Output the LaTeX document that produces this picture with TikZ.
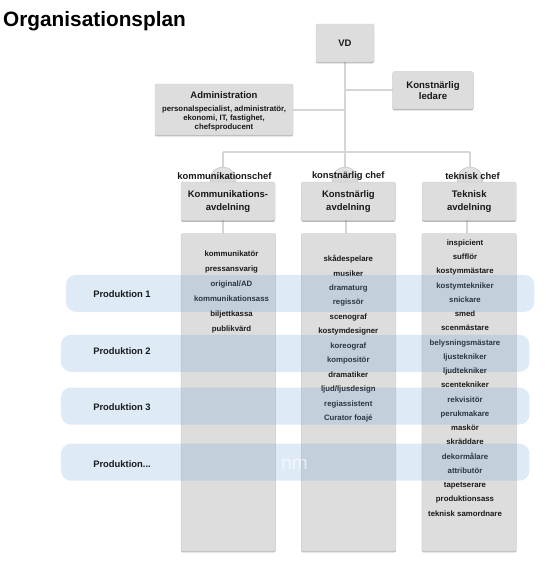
\documentclass[tikz,border=0pt]{standalone}
\usepackage{fontspec}
\setmainfont{Liberation Sans}
\usetikzlibrary{shadows}
\definecolor{boxgray}{RGB}{221,221,221}
\definecolor{boxedge}{RGB}{208,208,208}
\definecolor{linegray}{RGB}{214,214,214}
\definecolor{bandblue}{RGB}{105,160,215}
\definecolor{txt}{RGB}{25,25,25}
\begin{document}
\begin{tikzpicture}[x=1pt,y=-1pt,
  box/.style={rectangle, rounded corners=1.2pt, fill=boxgray, draw=boxedge, line width=0.4pt,
    drop shadow={shadow xshift=0pt, shadow yshift=-1.3pt, fill=black, opacity=0.28},
    inner sep=0pt, text=txt},
  conn/.style={draw=linegray, line width=2pt},
  knob/.style={circle, minimum size=26pt, inner sep=0pt, top color=gray!22, bottom color=gray!38, draw=gray!50, line width=0.5pt},
  band/.style={rectangle, rounded corners=10pt, fill=bandblue, fill opacity=0.22, draw=none, inner sep=0pt, minimum height=37pt},
  head/.style={font=\fontsize{9.4}{11}\selectfont\bfseries, text=txt},
  dept/.style={box, minimum width=94pt, minimum height=38.3pt, align=center, font=\fontsize{9.5}{13.3}\selectfont\bfseries},
  col/.style={box, minimum width=94.5pt, minimum height=317.5pt},
  lst/.style={align=center, text=txt, inner sep=0pt},
  plabel/.style={font=\fontsize{9.4}{11}\selectfont\bfseries, text=txt}
]
\useasboundingbox (0,0) rectangle (546,573);

% title
\node[anchor=base west, font=\fontsize{20.8}{24}\selectfont\bfseries, inner sep=0pt] (title) at (3,26.7) {Organisationsplan};

% coordinates for connector joints
\coordinate (jkl) at (345,90.3);
\coordinate (jadm) at (345,109.5);
\coordinate (jl) at (223,151.7);
\coordinate (jr) at (470,151.7);
\coordinate (k1) at (223,180);
\coordinate (k2) at (345,180);
\coordinate (k3) at (470,180);

% connectors
\draw[conn] (345,43) -- (k2);
\draw[conn] (jkl) -- (433,90.3);
\draw[conn] (224,109.5) -- (jadm);
\draw[conn] (jl) -- (jr);
\draw[conn] (jl) -- (k1);
\draw[conn] (jr) -- (k3);
\draw[conn] (223,201) -- (223,300);
\draw[conn] (346,201) -- (346,300);
\draw[conn] (467,201) -- (467,300);

% knobs (behind department boxes)
\node[knob] (kn1) at (k1) {};
\node[knob] (kn2) at (k2) {};
\node[knob] (kn3) at (k3) {};

% top boxes
\node[box, minimum width=58pt, minimum height=38pt, font=\fontsize{9.5}{11}\selectfont\bfseries] (vd) at (345,43) {VD};
\node[box, minimum width=80.6pt, minimum height=37.3pt, align=center, font=\fontsize{9.6}{10.6}\selectfont\bfseries] (kl) at (433,90.3) {Konstnärlig\\ledare};
\node[box, minimum width=138pt, minimum height=51pt] (adm) at (224,109.5) {};
\node[font=\fontsize{9.5}{11}\selectfont\bfseries, text=txt, inner sep=0pt] (admt) at (224,95) {Administration};
\node[font=\fontsize{7.8}{9.2}\selectfont\bfseries, text=txt, align=center, inner sep=0pt] (adml) at (224,118.4) {personalspecialist, administratör,\\ekonomi, IT, fastighet,\\chefsproducent};

% header labels
\node[head] (h1) at (224.5,175.7) {kommunikationschef};
\node[head] (h2) at (348.3,175.7) {konstnärlig chef};
\node[head] (h3) at (472.5,175.7) {teknisk chef};

% department boxes
\node[dept] (d1) at (228,201.3) {Kommunikations-\\avdelning};
\node[dept] (d2) at (348.4,201.3) {Konstnärlig\\avdelning};
\node[dept] (d3) at (469.2,201.3) {Teknisk\\avdelning};

% column boxes
\node[col] (c1) at (228.3,392.3) {};
\node[col] (c2) at (348.6,392.3) {};
\node[col] (c3) at (469.2,392.3) {};

% lists
\node[lst, font=\fontsize{7.8}{15}\selectfont\bfseries] (l1) at (231.5,292.2)
 {kommunikatör\\pressansvarig\\original/AD\\kommunikationsass\\biljettkassa\\publikvärd};
\node[lst, font=\fontsize{7.8}{14.45}\selectfont\bfseries] (l2) at (348.3,338.7)
 {skådespelare\\musiker\\dramaturg\\regissör\\scenograf\\kostymdesigner\\koreograf\\kompositör\\dramatiker\\ljud/ljusdesign\\regiassistent\\Curator foajé};
\node[lst, font=\fontsize{7.8}{14.24}\selectfont\bfseries] (l3) at (465,378)
 {inspicient\\sufflör\\kostymmästare\\kostymtekniker\\snickare\\smed\\scenmästare\\belysningsmästare\\ljustekniker\\ljudtekniker\\scentekniker\\rekvisitör\\perukmakare\\maskör\\skräddare\\dekormålare\\attributör\\tapetserare\\produktionsass\\teknisk samordnare};

% production bands
\node[band, minimum width=468.5pt] (b1) at (300.2,293.4) {};
\node[band, minimum width=468.5pt] (b2) at (295.2,353.4) {};
\node[band, minimum width=468.5pt] (b3) at (295.2,406) {};
\node[band, minimum width=468.5pt] (b4) at (295.2,462.2) {};

\node[plabel] (p1) at (122,294.3) {Produktion 1};
\node[plabel] (p2) at (122,350.7) {Produktion 2};
\node[plabel] (p3) at (122,406.7) {Produktion 3};
\node[plabel] (p4) at (122,464.3) {Produktion...};

\node[font=\fontsize{19}{22}\selectfont, text=white, text opacity=0.65] (nm) at (294.5,464) {nm};
\end{tikzpicture}
\end{document}
